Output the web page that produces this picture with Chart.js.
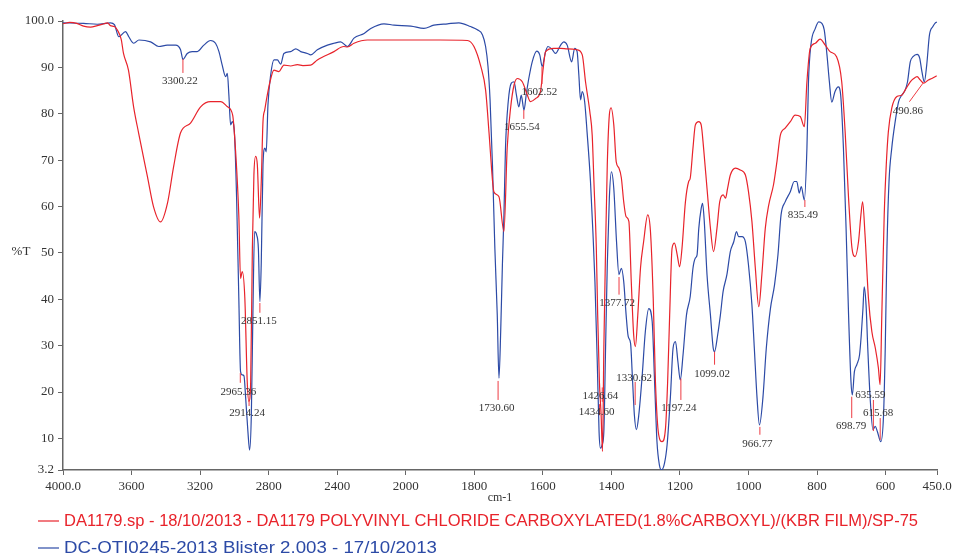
<!DOCTYPE html>
<html>
<head>
<meta charset="utf-8">
<script src="https://cdn.jsdelivr.net/npm/chart.js@4"></script>
<style>
  html, body { margin: 0; padding: 0; background: #fff; }
  #wrap { width: 953px; height: 560px; }
</style>
</head>
<body>
<div id="wrap"><canvas id="irChart" width="953" height="560"></canvas></div>
<script>
// wavenumber (cm-1), %T
const da1179 = [
  [4000,99.4],[3960,99.7],[3920,99.5],[3880,98.9],[3840,98.7],[3800,99.0],[3760,99.4],[3740,99.6],
  [3723,99.0],[3700,98.8],[3682,98.0],[3660,96.0],[3647,93.0],[3618,89.4],[3588,81.5],[3559,75.9],
  [3507,66.4],[3472,60.0],[3431,56.7],[3390,60.8],[3355,68.5],[3314,75.9],[3256,78.0],[3197,81.5],
  [3139,82.6],[3080,82.6],[3040,81.5],[3010,79.7],[2993,72.0],[2974,58.0],[2964,44.5],[2954,46.0],
  [2939,40.3],[2925,22.3],[2915,18.0],[2905,22.0],[2895,51.0],[2886,66.8],[2876,70.8],[2866,69.0],
  [2853,57.5],[2843,65.4],[2833,78.3],[2823,80.8],[2808,84.0],[2792,86.9],[2769,89.4],[2740,89.1],
  [2711,90.5],[2672,90.3],[2632,90.6],[2600,90.4],[2555,90.5],[2516,91.6],[2419,93.4],[2362,94.5],
  [2340,94.4],[2302,95.2],[2224,95.9],[2100,95.9],[2000,95.9],[1900,95.9],[1820,95.8],[1801,94.5],
  [1781,90.2],[1767,85.1],[1757,75.9],[1747,65.7],[1743,63.2],[1728,62.1],[1713.5,54.6],[1704,72.6],
  [1694,81.3],[1684,86.2],[1674.5,87.6],[1660,86.9],[1645,84.0],[1636,82.6],[1621,83.3],[1607,84.8],
  [1599,89.8],[1592,93.4],[1568,94.1],[1548,94.1],[1529,94.0],[1500,93.8],[1485,92.7],[1475.5,86.9],
  [1463,80.5],[1456,75.4],[1451,65.4],[1444,51.1],[1440,36.6],[1435,22.3],[1430,15.1],[1426,7.2],
  [1422,29.5],[1417,51.0],[1412,69.0],[1406,79.7],[1401,81.3],[1393,77.6],[1386,69.7],[1378,68.3],
  [1371,66.2],[1364,61.0],[1357,57.8],[1349,56.8],[1342,43.8],[1335,32.3],[1330,29.8],[1323,36.6],
  [1315,46.8],[1306,52.4],[1294,58.2],[1286,54.6],[1278,40.3],[1271.5,22.3],[1262,10.8],[1252,9.3],
  [1242,12.3],[1236,22.0],[1230,36.6],[1223,51.0],[1216,52.1],[1208,49.6],[1201,47.0],[1194,51.0],
  [1184,61.0],[1174.5,65.4],[1170,66.1],[1162,72.6],[1155,77.6],[1145,78.3],[1138,77.6],[1131,72.6],
  [1121,63.9],[1111,55.3],[1102,50.3],[1092,55.3],[1084,61.0],[1074,62.5],[1067,61.8],[1061,63.9],
  [1053,66.8],[1038,68.3],[1024,67.9],[1009,66.8],[1000,63.2],[990,56.8],[980,46.7],[970,38.4],
  [961,45.3],[951,55.3],[941,60.3],[927,64.7],[917,69.7],[907,75.4],[893,76.9],[878,78.3],
  [864,79.7],[849,79.4],[837,77.2],[829.5,86.9],[820,94.1],[805,95.2],[791,96.1],[776,94.8],
  [762,93.4],[743,92.3],[728,86.9],[718,76.1],[708,61.8],[698,51.0],[689,49.2],[679,52.4],
  [672,58.2],[667,61.0],[660,53.9],[650,40.2],[640,33.0],[630,29.5],[621,25.2],[616,21.6],
  [611,36.6],[604,58.2],[598,69.0],[592,76.1],[582,81.2],[567,83.7],[553,84.0],[543,85.1],
  [528,86.9],[518,87.6],[508,88.0],[499,87.3],[489,86.6],[475,87.3],[465,87.6],[451,88.2]
];

const dcOti0245 = [
  [4000,99.6],[3880,99.5],[3800,99.3],[3723,99.6],[3700,99.2],[3674,96.6],[3635,97.7],[3616,96.6],
  [3587,95.2],[3557,95.9],[3489,95.5],[3441,94.5],[3392,94.8],[3343,94.8],[3314,93.8],[3300,91.7],
  [3275,93.0],[3246,93.4],[3217,93.4],[3178,94.8],[3139,95.8],[3110,95.2],[3090,93.4],[3071,90.5],
  [3051,88.0],[3041,88.7],[3032,84.0],[3022,77.6],[3012,78.3],[2999,75.4],[2987,61.8],[2974,40.2],
  [2964,24.4],[2954,23.7],[2944,23.5],[2934,18.7],[2921,11.5],[2911,7.5],[2901,15.1],[2892,36.6],
  [2882,54.6],[2870,53.9],[2860,51.0],[2851,39.5],[2843,48.0],[2833,69.0],[2822,72.6],[2814,71.8],
  [2804,81.9],[2788,88.4],[2769,91.6],[2749,91.6],[2730,90.7],[2711,93.0],[2672,93.4],[2642,94.0],
  [2613,93.4],[2574,93.0],[2555,92.7],[2516,93.8],[2457,94.8],[2419,95.2],[2380,95.5],[2340,94.5],
  [2302,96.3],[2243,97.3],[2204,98.4],[2127,99.4],[2068,99.1],[1985,98.9],[1947,98.4],[1918,99.1],
  [1878,99.4],[1845,99.6],[1811,98.8],[1791,98.1],[1776,97.0],[1767,94.5],[1760,90.2],[1754,83.0],
  [1747,69.0],[1740,51.0],[1733,36.6],[1728,23.0],[1723,33.0],[1718,47.4],[1713.5,58.2],[1709,72.6],
  [1701,82.6],[1692,86.6],[1684,86.9],[1677,84.0],[1670,81.5],[1663,84.0],[1655,80.8],[1648,84.4],
  [1641,87.6],[1631,91.2],[1618,93.5],[1609,92.7],[1602,90.2],[1592,93.4],[1585,94.5],[1573,93.9],
  [1563,93.0],[1548,94.8],[1539,95.5],[1529,94.8],[1516,91.2],[1507,94.1],[1500,93.4],[1495,88.4],
  [1490,83.0],[1485,84.8],[1478,82.6],[1471,76.1],[1461,65.4],[1454,54.6],[1448,43.8],[1441,25.9],
  [1436,11.5],[1432,7.9],[1427,8.6],[1422,11.5],[1417,29.5],[1412,47.4],[1406,61.8],[1400,67.5],
  [1393,63.9],[1385,52.4],[1378,45.3],[1371,46.7],[1364,43.8],[1357,36.6],[1351,32.0],[1344,30.5],
  [1339,23.7],[1333,15.1],[1327,11.9],[1320,15.1],[1310,23.7],[1301,33.0],[1291,38.0],[1281,35.2],
  [1274,22.3],[1267,9.3],[1260,4.3],[1254,3.2],[1245,4.7],[1237.5,8.6],[1228,18.7],[1220,29.5],
  [1213,30.9],[1206,26.6],[1199,22.6],[1191,28.0],[1181,36.6],[1170,40.6],[1162,46.7],[1155,48.9],
  [1150,49.6],[1145,55.3],[1138,59.6],[1134,60.7],[1129,56.8],[1121,45.3],[1111,36.6],[1103,29.5],
  [1099,28.7],[1090,32.3],[1082,36.6],[1074,41.7],[1063,45.3],[1053,50.3],[1043,52.4],[1035,54.6],
  [1029,53.5],[1019,53.5],[1009,52.4],[1000,47.4],[990,38.8],[983,29.5],[975,18.7],[968,12.9],
  [958,18.7],[948,29.5],[936,38.0],[924,43.1],[914,49.6],[905,58.2],[893,61.0],[878,63.2],
  [866.5,65.4],[859,65.4],[852,62.9],[846,64.3],[837,61.4],[829.5,72.6],[825,86.9],[818,94.8],
  [805,98.4],[795,99.8],[786,99.5],[779,98.1],[771,92.7],[764,86.9],[757,82.5],[747.5,84.8],
  [738,85.8],[731,84.0],[723,72.6],[715,54.6],[708,36.6],[701,22.3],[697,19.4],[691,24.4],
  [684,25.9],[676,28.0],[671,32.3],[666,38.0],[662.5,42.7],[657,38.8],[652,29.5],[645,18.7],
  [637,11.9],[630,12.6],[624,11.5],[614,9.3],[606,15.0],[601,29.5],[596,51.0],[590,65.4],
  [582,72.6],[572,78.3],[562,82.6],[553,84.0],[543,85.1],[536,86.9],[528,91.2],[520,92.3],
  [508,92.8],[500.5,92.0],[494,89.1],[487,86.9],[480,90.5],[472,97.0],[462,98.8],[456,99.5],[450,99.8]
];

const xTickWavenumbers = [4000, 3600, 3200, 2800, 2400, 2000, 1800, 1600, 1400, 1200, 1000, 800, 600, 450];
const yTickValues = [3.2, 10, 20, 30, 40, 50, 60, 70, 80, 90, 100];

const peakWavenumbers = [3300.22, 2965.36, 2914.24, 2851.15, 1730.60, 1655.54, 1602.52, 1434.60, 1426.64,
  1377.72, 1330.62, 1197.24, 1099.02, 966.77, 835.49, 698.79, 635.59, 615.68, 490.86];

// [tick top %T, tick bottom %T, text %T, text x offset px, optional leader start cm-1]
const peakLabelPlacement = [
  [91.8, 88.8, 87.1, -3], [24.1, 22.0, 20.0, -2], [18.3, 17.0, 15.5, -2], [39.2, 37.1, 35.4, -1],
  [22.4, 18.3, 16.6, -1.5], [80.8, 78.9, 77.2, -2], [90.1, 86.4, 84.7, -2.5], [17.4, 15.0, 15.7, -3],
  [21.0, 17.9, 19.2, -2], [44.8, 41.0, 39.2, -2], [22.2, 17.2, 23.1, -1], [22.9, 18.3, 16.6, -2],
  [28.7, 25.9, 23.9, -2.5], [12.5, 10.8, 8.8, -2.5], [61.4, 59.9, 58.2, -2], [19.0, 14.4, 12.7, -0.5],
  [18.3, 11.6, 19.4, -3], [14.4, 9.7, 15.5, -2], [86.6, 82.6, 80.6, -15, 530.5]
];

const seriesNames = [
  'DA1179.sp - 18/10/2013 - DA1179 POLYVINYL CHLORIDE CARBOXYLATED(1.8%CARBOXYL)/(KBR FILM)/SP-75',
  'DC-OTI0245-2013 Blister 2.003 - 17/10/2013'
];
const seriesColors = ['#e8232b', '#2c4aa6'];

// the axis is compressed 2:1 above 2000 cm-1
function toAxis(wn) { return wn > 2000 ? 2000 + (wn - 2000) / 2 : wn; }
function fromAxis(v) { return v > 2000 ? 2000 + (v - 2000) * 2 : v; }

const serif = '"Liberation Serif", "Times New Roman", serif';

const overlayPlugin = {
  id: 'overlay',
  afterDatasetsDraw(chart) {
    const { ctx, scales: { x, y } } = chart;
    ctx.save();
    ctx.font = '11px ' + serif;
    ctx.fillStyle = '#333';
    ctx.textAlign = 'center';
    ctx.textBaseline = 'middle';
    ctx.strokeStyle = '#ee3b43';
    ctx.lineWidth = 1;
    peakWavenumbers.forEach((wn, i) => {
      const [t1, t2, tt, dx, fromWn] = peakLabelPlacement[i];
      const px = x.getPixelForValue(toAxis(wn));
      const sx = fromWn ? x.getPixelForValue(toAxis(fromWn)) : px;
      ctx.beginPath();
      ctx.moveTo(px, y.getPixelForValue(t1));
      ctx.lineTo(sx, y.getPixelForValue(t2));
      ctx.stroke();
      ctx.fillText(wn.toFixed(2), px + dx, y.getPixelForValue(tt));
    });
    ctx.restore();
  },
  afterDraw(chart) {
    const { ctx, chartArea } = chart;
    ctx.save();
    ctx.fillStyle = '#333';
    ctx.textBaseline = 'middle';
    ctx.font = '13px ' + serif;
    ctx.textAlign = 'center';
    ctx.fillText('%T', 21, 252);
    ctx.font = '12px ' + serif;
    ctx.fillText('cm-1', (chartArea.left + chartArea.right) / 2, 498);

    // legend: line swatch + name, squeezed to the narrow face
    const rows = [[521, 854], [548, 373]];
    seriesNames.forEach((name, i) => {
      const [ly, targetW] = rows[i];
      ctx.strokeStyle = seriesColors[i];
      ctx.lineWidth = 1.2;
      ctx.beginPath();
      ctx.moveTo(38, ly);
      ctx.lineTo(59, ly);
      ctx.stroke();
      ctx.font = '17px "Liberation Sans", Arial, sans-serif';
      ctx.textAlign = 'left';
      ctx.fillStyle = seriesColors[i];
      const w = ctx.measureText(name).width;
      ctx.save();
      ctx.translate(64, ly);
      ctx.scale(targetW / w, 1);
      ctx.fillText(name, 0, 0);
      ctx.restore();
    });
    ctx.restore();
  }
};

new Chart(document.getElementById('irChart'), {
  type: 'line',
  data: {
    datasets: [da1179, dcOti0245].map((spec, i) => ({
      label: seriesNames[i],
      data: spec.map(([wn, t]) => ({ x: toAxis(wn), y: t })),
      borderColor: seriesColors[i],
      borderWidth: 1.2,
      pointRadius: 0,
      cubicInterpolationMode: 'monotone',
      fill: false
    }))
  },
  options: {
    responsive: false,
    animation: false,
    events: [],
    layout: { padding: { top: 21, right: 16, bottom: 0, left: 0 } },
    plugins: { legend: { display: false }, tooltip: { enabled: false } },
    scales: {
      x: {
        type: 'linear',
        reverse: true,
        min: toAxis(450),
        max: toAxis(4000),
        afterBuildTicks(scale) {
          scale.ticks = xTickWavenumbers.map(wn => ({ value: toAxis(wn) }));
        },
        afterFit(scale) {
          scale.height = 90;
          scale.paddingLeft = 0;
          scale.paddingRight = 0;
        },
        ticks: {
          autoSkip: false,
          maxRotation: 0,
          padding: 4,
          color: '#333',
          font: { family: serif, size: 13 },
          callback(v) {
            const wn = fromAxis(v);
            return (wn === 4000 || wn === 450) ? wn.toFixed(1) : String(wn);
          }
        },
        grid: { drawOnChartArea: false, drawTicks: true, tickLength: 5, color: '#666' },
        border: { display: true, color: '#666', width: 1.5 }
      },
      y: {
        min: 3.2,
        max: 100,
        afterBuildTicks(scale) {
          scale.ticks = yTickValues.map(v => ({ value: v }));
        },
        afterFit(scale) {
          scale.width = 63;
        },
        ticks: {
          autoSkip: false,
          padding: 4,
          color: '#333',
          font: { family: serif, size: 13 },
          callback(v) { return v === 100 ? '100.0' : String(v); }
        },
        grid: { drawOnChartArea: false, drawTicks: true, tickLength: 5, color: '#666' },
        border: { display: true, color: '#666', width: 1.5 }
      }
    }
  },
  plugins: [overlayPlugin]
});
</script>
</body>
</html>
